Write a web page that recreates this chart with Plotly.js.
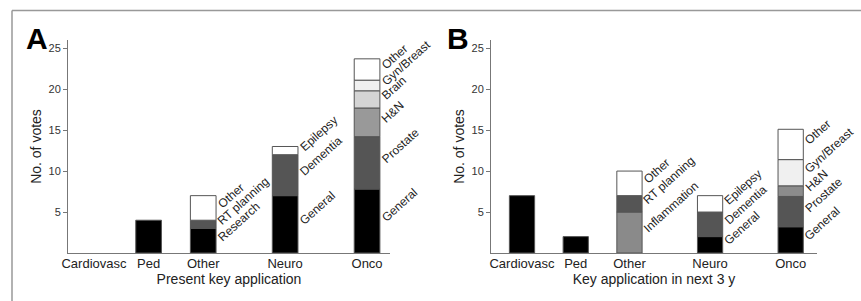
<!DOCTYPE html>
<html>
<head>
<meta charset="utf-8">
<script src="https://cdn.plot.ly/plotly-3.0.1.min.js"></script>
<style>
html,body{margin:0;padding:0;background:#fff;}
#chart{width:861px;height:301px;}
</style>
</head>
<body>
<div id="chart"></div>
<script>
// ---------- data ----------
const categories = ['Cardiovasc', 'Ped', 'Other', 'Neuro', 'Onco'];
const yTicks = [5, 10, 15, 20, 25];

// Panel A: present key application
const aCardiovascVotes = [0];
const aPedVotes = [4];
const aOtherLabels = ['Research', 'RT planning', 'Other'];
const aOtherVotes = [3, 1, 3];
const aNeuroLabels = ['General', 'Dementia', 'Epilepsy'];
const aNeuroVotes = [7, 5, 1];
const aOncoLabels = ['General', 'Prostate', 'H&N', 'Brain', 'Gyn/Breast', 'Other'];
const aOncoVotes = [7.8, 6.4, 3.5, 2.1, 1.3, 2.6];

// Panel B: key application in next 3 y
const bCardiovascVotes = [7];
const bPedVotes = [2];
const bOtherLabels = ['Inflammation', 'RT planning', 'Other'];
const bOtherVotes = [5, 2, 3];
const bNeuroLabels = ['General', 'Dementia', 'Epilepsy'];
const bNeuroVotes = [2, 3, 2];
const bOncoLabels = ['General', 'Prostate', 'H&N', 'Gyn/Breast', 'Other'];
const bOncoVotes = [3.2, 3.7, 1.3, 3.2, 3.7];

// ---------- styling / layout helpers ----------
const catPos = [0, 1, 2, 3.5, 5];
const barWidth = 0.47;
const FONT = 'Liberation Sans, Arial, Helvetica, sans-serif';
const shade = {
  'General': '#000000', 'Research': '#000000', 'single': '#000000',
  'Dementia': '#555555', 'Prostate': '#555555', 'RT planning': '#555555',
  'H&N': '#999999', 'Inflammation': '#8a8a8a',
  'Brain': '#d4d4d4', 'Gyn/Breast': '#f0f0f0',
  'Epilepsy': '#ffffff', 'Other': '#ffffff'
};
const bShade = Object.assign({}, shade, {'H&N': '#8c8c8c'});

const traces = [];
const annotations = [];

function addStack(xa, ya, pos, labels, votes, colors) {
  let cum = 0;
  let lastLabelY = -Infinity;
  votes.forEach((v, i) => {
    const lab = labels ? labels[i] : 'single';
    if (v > 0) {
      traces.push({
        type: 'bar', x: [pos], y: [v], base: [cum], width: [barWidth],
        xaxis: xa, yaxis: ya,
        marker: {color: colors[lab], line: {color: '#555', width: 1}},
        hoverinfo: 'skip', showlegend: false
      });
    }
    if (labels) {
      let ly = cum + v / 2;
      if (ly < lastLabelY + 1.6) ly = lastLabelY + 1.6;
      lastLabelY = ly;
      annotations.push({
        xref: xa, yref: ya, x: pos + barWidth / 2, y: ly,
        text: lab, showarrow: false, textangle: -42,
        xanchor: 'left', yanchor: 'bottom', xshift: -4, yshift: -6,
        font: {family: FONT, size: 12, color: '#222'}
      });
    }
    cum += v;
  });
}

// Panel A
addStack('x', 'y', catPos[0], null, aCardiovascVotes, shade);
addStack('x', 'y', catPos[1], null, aPedVotes, shade);
addStack('x', 'y', catPos[2], aOtherLabels, aOtherVotes, shade);
addStack('x', 'y', catPos[3], aNeuroLabels, aNeuroVotes, shade);
addStack('x', 'y', catPos[4], aOncoLabels, aOncoVotes, shade);
// Panel B
addStack('x2', 'y2', catPos[0], null, bCardiovascVotes, bShade);
addStack('x2', 'y2', catPos[1], null, bPedVotes, bShade);
addStack('x2', 'y2', catPos[2], bOtherLabels, bOtherVotes, bShade);
addStack('x2', 'y2', catPos[3], bNeuroLabels, bNeuroVotes, bShade);
addStack('x2', 'y2', catPos[4], bOncoLabels, bOncoVotes, bShade);

// panel letters
annotations.push({xref: 'paper', yref: 'paper', x: 24 / 861, y: 1 - 39 / 301, xanchor: 'left', yanchor: 'middle',
  text: '<b>A</b>', showarrow: false, font: {family: FONT, size: 30, color: '#000'}});
annotations.push({xref: 'paper', yref: 'paper', x: 445 / 861, y: 1 - 39 / 301, xanchor: 'left', yanchor: 'middle',
  text: '<b>B</b>', showarrow: false, font: {family: FONT, size: 30, color: '#000'}});

function xAxis(domain, range, title) {
  return {
    domain: domain, range: range, tickmode: 'array', tickvals: catPos, ticktext: categories,
    showline: true, linecolor: '#777', linewidth: 1, ticks: '', showgrid: false, zeroline: false,
    tickfont: {family: FONT, size: 13, color: '#222'}, ticklabelstandoff: -2,
    title: {text: title, font: {family: FONT, size: 14, color: '#222'}, standoff: 0},
    automargin: false, fixedrange: true
  };
}
function yAxis(anchor) {
  return {
    domain: [0.1595, 0.8671], range: [0, 26], tickmode: 'array', tickvals: yTicks,
    showline: true, linecolor: '#777', linewidth: 1, ticks: 'outside', ticklen: 4, tickcolor: '#777',
    showgrid: false, zeroline: false, anchor: anchor,
    tickfont: {family: FONT, size: 11, color: '#333'},
    title: {text: 'No. of votes', font: {family: FONT, size: 14, color: '#222'}, standoff: 3},
    automargin: false, fixedrange: true
  };
}

const layout = {
  width: 861, height: 301,
  margin: {l: 0, r: 0, t: 0, b: 0},
  paper_bgcolor: '#fff', plot_bgcolor: 'rgba(0,0,0,0)',
  barmode: 'overlay', showlegend: false,
  xaxis: xAxis([68 / 861, 390 / 861], [-0.476, 5.42], 'Present key application'),
  yaxis: yAxis('x'),
  xaxis2: xAxis([491 / 861, 817 / 861], [-0.577, 5.49], 'Key application in next 3 y'),
  yaxis2: yAxis('x2'),
  annotations: annotations,
  shapes: [
    {type: 'line', xref: 'paper', yref: 'paper', x0: 12 / 861, x1: 12 / 861, y0: 0, y1: 1 - 10.5 / 301,
      line: {color: '#999', width: 1.5}},
    {type: 'line', xref: 'paper', yref: 'paper', x0: 12 / 861, x1: 1, y0: 1 - 10.5 / 301, y1: 1 - 10.5 / 301,
      line: {color: '#999', width: 1.5}}
  ],
  font: {family: FONT}
};

Plotly.newPlot('chart', traces, layout, {staticPlot: true, displayModeBar: false});
</script>
</body>
</html>
